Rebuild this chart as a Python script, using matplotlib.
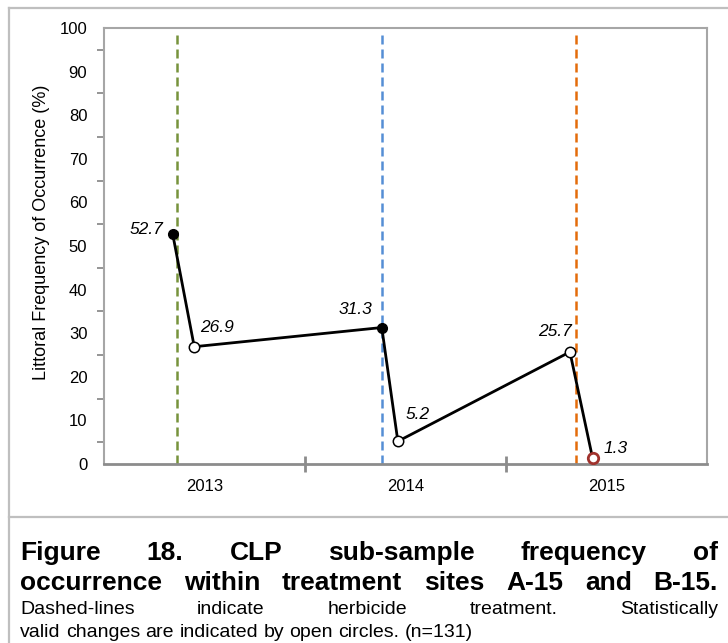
import matplotlib
matplotlib.use('Agg')
import matplotlib.pyplot as plt
from matplotlib.lines import Line2D
from matplotlib.ticker import MultipleLocator, FixedLocator, NullFormatter

plt.rcParams['font.family'] = ['Liberation Sans', 'DejaVu Sans']

# data: x is position along the year axis (category centres at 0.5, 1.5, 2.5)
years = ['2013', '2014', '2015']
survey_x = [0.342, 0.449, 1.382, 1.462, 2.318, 2.431]
freq = [52.7, 26.9, 31.3, 5.2, 25.7, 1.3]
open_pt = [False, True, False, True, True, True]
treatment_x = [0.365, 1.385, 2.348]
treatment_colors = ['#77933c', '#558ed5', '#e46c0a']
label_offsets = [(-7, 0), (4.3, 10.6), (-7, 9.6), (5.3, 15.8), (1.5, 11.3), (8.1, 4)]
label_align = ['right', 'left', 'right', 'left', 'right', 'left']

W, H = 728, 643
fig = plt.figure(figsize=(W / 100, H / 100), dpi=100)
ax = fig.add_axes([104 / W, 1 - 464 / H, (707 - 104) / W, (464 - 28) / H])

gray = '#8c8c8c'

# treatment dashed lines
for x, c in zip(treatment_x, treatment_colors):
    ax.vlines(x, 0, 99, colors=c, linestyles=(0, (3.6, 2.0)), linewidth=1.8, zorder=2)

ax.plot(survey_x, freq, color='black', linewidth=2, zorder=3)
for x, y, op in zip(survey_x, freq, open_pt):
    if op and y < 2:
        ax.plot(x, y, 'o', ms=7.5, mfc='white', mec='#a0322d', mew=2, zorder=4)
    elif op:
        ax.plot(x, y, 'o', ms=7.5, mfc='white', mec='black', mew=1.1, zorder=4)
    else:
        ax.plot(x, y, 'o', ms=7, mfc='black', mec='black', zorder=4)

for x, y, off, ha in zip(survey_x, freq, label_offsets, label_align):
    ax.annotate(f'{y}', (x, y), xytext=off, textcoords='offset points',
                ha=ha, va='baseline', fontsize=12.5, style='italic')

ax.set_xlim(0, 3)
ax.set_ylim(0, 100)

ax.yaxis.set_major_locator(MultipleLocator(10))
ax.yaxis.set_minor_locator(MultipleLocator(5))
ax.tick_params(axis='y', which='major', length=0, pad=12, labelsize=12)
ax.tick_params(axis='y', which='minor', length=5, width=1.3, color=gray, direction='out')

ax.xaxis.set_major_locator(FixedLocator([1, 2]))
ax.xaxis.set_major_formatter(NullFormatter())
ax.xaxis.set_minor_locator(FixedLocator([0.5, 1.5, 2.5]))
ax.set_xticklabels(years, minor=True)
ax.tick_params(axis='x', which='major', length=12, width=2, color=gray, direction='inout')
ax.tick_params(axis='x', which='minor', length=0, pad=11, labelsize=12)

for side in ['left', 'right', 'top']:
    ax.spines[side].set_color('#a6a6a6')
    ax.spines[side].set_linewidth(1.5)
ax.spines['bottom'].set_color(gray)
ax.spines['bottom'].set_linewidth(2)

ax.set_ylabel('Littoral Frequency of Occurrence (%)', fontsize=13)
ax.yaxis.set_label_coords(-0.0896, 0.532)

# outer frame of the chart and caption separator
frame_c = '#bfbfbf'
fig.add_artist(Line2D([9 / W, 1], [1 - 8 / H, 1 - 8 / H], color=frame_c, lw=1.6))
fig.add_artist(Line2D([9 / W, 9 / W], [0, 1 - 8 / H], color=frame_c, lw=1.6))
fig.add_artist(Line2D([9 / W, 1], [1 - 517 / H, 1 - 517 / H], color=frame_c, lw=1.6))

# justified caption
renderer = fig.canvas.get_renderer()


def caption_line(text, base_y, justify=True, **kw):
    words = text.split()
    objs = [fig.text(0, 1 - base_y / H, w, va='baseline', ha='left', **kw)
            for w in words]
    widths = [o.get_window_extent(renderer).width for o in objs]
    x0, x1 = 20, 718
    if justify and len(words) > 1:
        gap = (x1 - x0 - sum(widths)) / (len(words) - 1)
    else:
        gap = objs[0].get_fontsize() * 100 / 72 * 0.278
    x = x0
    for o, w in zip(objs, widths):
        o.set_x(x / W)
        x += w + gap


caption_line('Figure 18. CLP sub-sample frequency of', 560, fontsize=19, weight='bold')
caption_line('occurrence within treatment sites A-15 and B-15.', 590, fontsize=19, weight='bold')
caption_line('Dashed-lines indicate herbicide treatment. Statistically', 614, fontsize=14)
caption_line('valid changes are indicated by open circles. (n=131)', 637, justify=False, fontsize=14)

fig.savefig('out.png', dpi=100)
